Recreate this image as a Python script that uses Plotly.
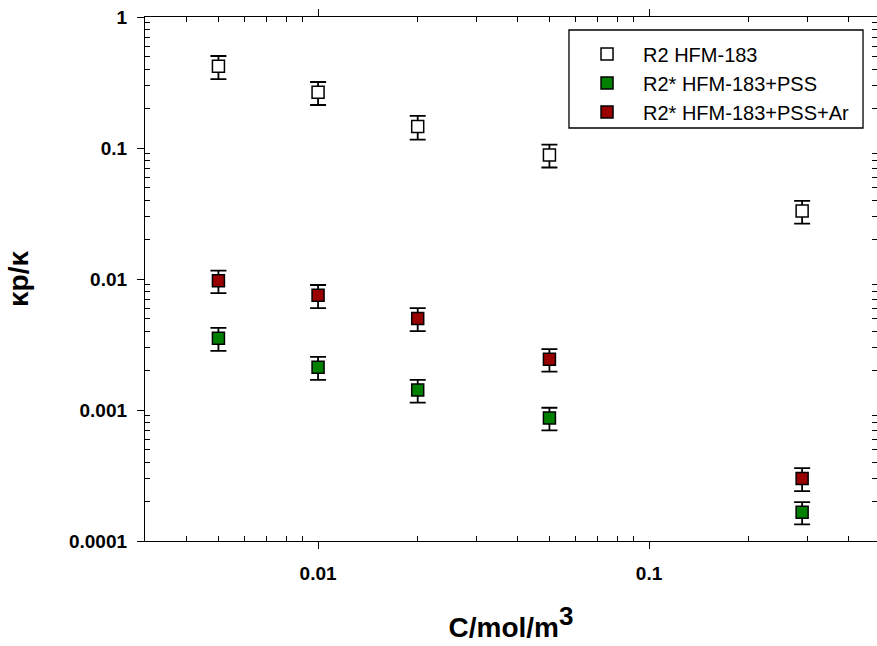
import math
import plotly.graph_objects as go

# Concentration (mol/m^3)
conc = [0.005, 0.01, 0.02, 0.05, 0.29]

# kappa_p / kappa for each membrane, with error bars
r2_hfm = [0.42, 0.266, 0.146, 0.0885, 0.033]
r2_hfm_err = [0.084, 0.053, 0.030, 0.0175, 0.0065]

r2s_pss = [0.00353, 0.00212, 0.00142, 0.00087, 0.000166]
r2s_pss_err = [0.0007, 0.00042, 0.00028, 0.00017, 0.000032]

r2s_pss_ar = [0.0097, 0.0075, 0.0050, 0.00244, 0.0003]
r2s_pss_ar_err = [0.0019, 0.0015, 0.0010, 0.00048, 0.00006]

names = ["R2 HFM-183", "R2* HFM-183+PSS", "R2* HFM-183+PSS+Ar"]
fills = ["white", "#008000", "#990000"]

x_ticks = [0.01, 0.1]
x_tick_text = ["0.01", "0.1"]
y_ticks = [0.0001, 0.001, 0.01, 0.1, 1]
y_tick_text = ["0.0001", "0.001", "0.01", "0.1", "1"]

FONT = "Liberation Sans, Arial, sans-serif"
X_RANGE = [math.log10(0.003), -0.3114]
Y_RANGE = [-4, 0]


def minor_positions(first_decade, last_decade):
    """Intermediate log ticks 2..9 within each decade."""
    return [m * 10.0 ** k for k in range(first_decade, last_decade + 1)
            for m in range(2, 10)]


fig = go.Figure()
for name, ys, err, fill in zip(
    names,
    [r2_hfm, r2s_pss, r2s_pss_ar],
    [r2_hfm_err, r2s_pss_err, r2s_pss_ar_err],
    fills,
):
    fig.add_trace(
        go.Scatter(
            x=conc,
            y=ys,
            name=name,
            mode="markers",
            marker=dict(symbol="square", size=12, color=fill,
                        line=dict(color="black", width=1.5)),
            error_y=dict(type="data", array=err, visible=True,
                         color="black", thickness=1.8, width=8),
        )
    )

# empty trace so the minor-tick overlay axes get drawn
fig.add_trace(go.Scatter(x=[], y=[], xaxis="x2", yaxis="y2",
                         showlegend=False, hoverinfo="skip"))

line_style = dict(showline=True, linecolor="black", linewidth=1.3,
                  mirror="allticks", showgrid=False, zeroline=False,
                  tickcolor="black")
label_font = dict(family=FONT, size=19, color="black", weight="bold")
title_font = dict(family=FONT, size=28, color="black", weight="bold")

fig.update_layout(
    width=877,
    height=646,
    margin=dict(l=145, r=0, t=17, b=105, autoexpand=False),
    paper_bgcolor="white",
    plot_bgcolor="white",
    showlegend=True,
    xaxis=dict(
        **line_style, type="log", range=X_RANGE,
        ticks="outside", ticklen=7, tickwidth=1.3,
        tickvals=x_ticks, ticktext=x_tick_text,
        tickfont=label_font, ticklabelstandoff=8,
        title=dict(text='C/mol/m<sup><span style="font-size:26px">3</span></sup>',
                   standoff=34, font=title_font),
    ),
    yaxis=dict(
        **line_style, type="log", range=Y_RANGE,
        ticks="outside", ticklen=7, tickwidth=1.3,
        tickvals=y_ticks, ticktext=y_tick_text,
        tickfont=label_font, ticklabelstandoff=6,
        title=dict(text="κp/κ", standoff=32, font=title_font),
    ),
    xaxis2=dict(
        **line_style, type="log", range=X_RANGE, overlaying="x",
        anchor="y", side="bottom",
        ticks="inside", ticklen=5, tickwidth=1.2,
        tickvals=minor_positions(-3, -1), showticklabels=False,
    ),
    yaxis2=dict(
        **line_style, type="log", range=Y_RANGE, overlaying="y",
        anchor="x", side="left",
        ticks="inside", ticklen=5, tickwidth=1.2,
        tickvals=minor_positions(-4, -1), showticklabels=False,
    ),
    legend=dict(
        x=0.582, y=0.9666, xanchor="left", yanchor="top",
        borderwidth=0, bgcolor="rgba(0,0,0,0)",
        itemwidth=62,
        font=dict(family=FONT, size=20, color="black"),
    ),
    shapes=[
        dict(type="rect", xref="paper", yref="paper",
             x0=0.5792, x1=0.9809, y0=0.7882, y1=0.9752,
             line=dict(color="black", width=1.3), fillcolor="white",
             layer="below"),
    ],
)

fig.write_html("out.html")
